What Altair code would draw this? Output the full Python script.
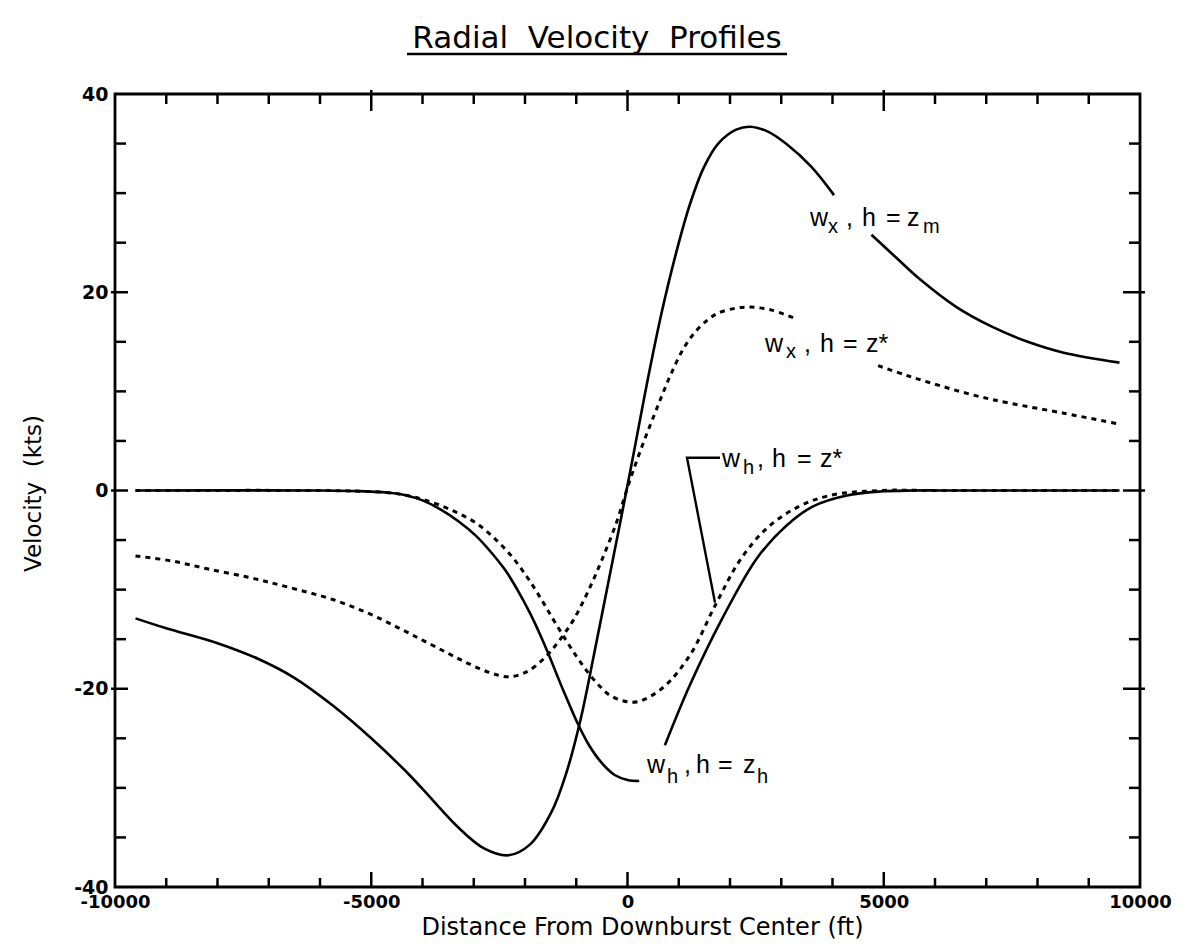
import altair as alt
import pandas as pd

NB = "\u00a0"
TITLE = "Radial" + NB + " Velocity" + NB + " Profiles"
X_TITLE = "Distance From Downburst Center (ft)"
Y_TITLE = "Velocity" + NB + " (kts)"

X_LABELS = [-10000, -5000, 0, 5000, 10000]
Y_LABELS = [-40, -20, 0, 20, 40]
X_MINOR = [-9000, -8000, -7000, -6000, -4000, -3000, -2000, -1000,
           1000, 2000, 3000, 4000, 6000, 7000, 8000, 9000]
X_MAJOR = [-5000, 0, 5000]
Y_MINOR = [-35, -30, -25, -15, -10, -5, 5, 10, 15, 25, 30, 35]
Y_MAJOR = [-20, 0, 20]

# w_x, h = z_m (solid), split around its label
wx_zm_a_x = [-9600, -9000, -8000, -7200, -6500, -5750, -5000, -4350, -4000, -3300,
             -2800, -2320, -1900, -1480, -1200, -920, -640, -360, -80, 130, 380,
             660, 940, 1220, 1490, 1770, 2120, 2400, 2740, 3090, 3580, 4030]
wx_zm_a_y = [-12.9, -13.9, -15.4, -17.0, -18.9, -21.7, -25.0, -28.2, -30.1, -34.0,
             -36.1, -36.8, -35.7, -32.4, -28.6, -23.2, -16.2, -8.9, -1.6, 4.0, 10.8,
             17.8, 23.8, 28.9, 32.6, 35.0, 36.4, 36.7, 36.2, 35.0, 32.7, 29.8]
wx_zm_b_x = [4760, 5240, 5730, 6420, 7120, 7810, 8510, 9600]
wx_zm_b_y = [25.8, 23.5, 21.2, 18.5, 16.5, 15.0, 13.9, 12.9]

# w_x, h = z* (dotted), split around its label
wx_zs_a_x = [-9600, -8900, -8200, -7360, -6660, -5750, -5050, -4490, -4000, -3510,
             -3090, -2670, -2320, -1970, -1620, -1340, -1060, -780, -500, -220, 0,
             250, 520, 690, 870, 1080, 1290, 1560, 1770, 2120, 2400, 2810, 3300]
wx_zs_a_y = [-6.6, -7.1, -7.9, -8.8, -9.7, -11.0, -12.4, -13.8, -15.1, -16.4,
             -17.5, -18.4, -18.8, -18.3, -16.9, -15.2, -13.1, -10.3, -7.0, -3.3, 0.3,
             4.0, 7.6, 9.8, 12.0, 14.2, 15.8, 17.2, 17.9, 18.4, 18.5, 18.2, 17.3]
wx_zs_b_x = [4890, 5450, 6080, 6770, 7470, 8510, 9600]
wx_zs_b_y = [12.6, 11.6, 10.6, 9.6, 8.8, 7.8, 6.7]

# w_h, h = z_h (solid), split around its label
wh_zh_a_x = [-9600, -6000, -5400, -4700, -4350, -4000, -3650, -3300, -2950, -2700,
             -2390, -2150, -1900, -1700, -1550, -1250, -990, -750, -500, -250, 0, 230]
wh_zh_a_y = [0, 0, -0.05, -0.2, -0.45, -1.0, -1.9, -3.1, -4.6, -6.0,
             -8.0, -10.0, -12.4, -14.6, -16.4, -20.2, -23.3, -25.7, -27.5, -28.7, -29.2, -29.3]
wh_zh_b_x = [730, 1220, 1860, 2530, 3110, 3620, 4280, 4930, 5570, 6500, 9600]
wh_zh_b_y = [-25.7, -19.6, -12.8, -6.8, -3.5, -1.6, -0.5, -0.1, 0, 0, 0]

# w_h, h = z* (dotted)
wh_zs_x = [-9600, -6000, -5400, -4700, -4300, -4000, -3650, -3300, -2950, -2600,
           -2250, -1950, -1690, -1450, -1200, -1000, -780, -550, -360, -100, 200,
           690, 1220, 1710, 2200, 2720, 3310, 3950, 4930, 6000, 9600]
wh_zs_y = [0, 0, -0.05, -0.2, -0.5, -0.9, -1.5, -2.3, -3.3, -4.8,
           -6.7, -8.8, -10.9, -13.0, -15.1, -16.7, -18.3, -19.7, -20.6, -21.2, -21.3,
           -19.9, -16.6, -11.6, -7.0, -3.8, -1.7, -0.5, 0, 0, 0]

# leader line for "w_h, h = z*"
leader_x = [1805, 1161, 1707]
leader_y = [3.3, 3.3, -11.3]

# curve labels: text pieces (main text and subscripts)
ann_text = ["w", "x", ",", "h", "=", "z", "m",
            "w", "x", ",", "h", "=", "z*",
            "w", "h", ",", "h", "=", "z*",
            "w", "h", ",", "h", "=", "z", "h"]
ann_x = [3561, 3912, 4263, 4576, 5044, 5454, 5766,
         2683, 3093, 3444, 3756, 4205, 4654,
         1844, 2254, 2527, 2819, 3307, 3756,
         380, 771, 1102, 1336, 1766, 2254, 2527]
ann_y = [26.7, 26.0, 26.7, 26.7, 26.7, 26.7, 26.0,
         14.0, 13.4, 14.0, 14.0, 14.0, 14.0,
         2.4, 1.7, 2.4, 2.4, 2.4, 2.4,
         -28.5, -29.5, -28.5, -28.5, -28.5, -28.5, -29.5]
ann_sub = [0, 1, 0, 0, 0, 0, 1,
           0, 1, 0, 0, 0, 0,
           0, 1, 0, 0, 0, 0,
           0, 1, 0, 0, 0, 0, 1]


def seg(xs, ys, name):
    return pd.DataFrame({"ft": xs, "v": ys, "seg": name})


solid_df = pd.concat([seg(wx_zm_a_x, wx_zm_a_y, "a"), seg(wx_zm_b_x, wx_zm_b_y, "b"),
                      seg(wh_zh_a_x, wh_zh_a_y, "c"), seg(wh_zh_b_x, wh_zh_b_y, "d")])
dotted_df = pd.concat([seg(wx_zs_a_x, wx_zs_a_y, "a"), seg(wx_zs_b_x, wx_zs_b_y, "b"),
                       seg(wh_zs_x, wh_zs_y, "c")])
leader_df = pd.DataFrame({"ft": leader_x, "v": leader_y, "o": [0, 1, 2]})
ann_df = pd.DataFrame({"ft": ann_x, "v": ann_y, "t": ann_text,
                       "s": [20 if s else 25 for s in ann_sub]})
xmin_df = pd.DataFrame({"ft": X_MINOR})
xmaj_df = pd.DataFrame({"ft": X_MAJOR})
ymin_df = pd.DataFrame({"v": Y_MINOR})
ymaj_df = pd.DataFrame({"v": Y_MAJOR})
title_df = pd.DataFrame({"t": [TITLE]})

W, H = 1025, 793

X = alt.X("ft:Q", scale=alt.Scale(domain=[-10000, 10000], nice=False, zero=False),
          axis=alt.Axis(values=X_LABELS, title=X_TITLE, labelExpr="'' + datum.value",
                        ticks=False, tickSize=0, grid=False, domain=False,
                        labelFont="DejaVu Sans", labelFontWeight="bold", labelFontSize=18,
                        labelColor="black", labelPadding=6, labelFlush=False,
                        labelOverlap=False,
                        titleFont="DejaVu Sans", titleFontSize=24, titleFontWeight="normal",
                        titleColor="black", titleX=527, titleY=47,
                        titleBaseline="alphabetic", titleAlign="center"))
Y = alt.Y("v:Q", scale=alt.Scale(domain=[-40, 40], nice=False, zero=False),
          axis=alt.Axis(values=Y_LABELS, title=Y_TITLE, labelExpr="'' + datum.value",
                        ticks=False, tickSize=0, grid=False, domain=False,
                        labelFont="DejaVu Sans", labelFontWeight="bold", labelFontSize=19,
                        labelColor="black", labelPadding=7, labelFlush=False,
                        labelOverlap=False,
                        titleFont="DejaVu Sans", titleFontSize=23, titleFontWeight="normal",
                        titleColor="black", titleX=-75, titleY=399, titleAngle=270,
                        titleBaseline="alphabetic", titleAlign="center"))

LW = 2.6
INTERP = "catmull-rom"
solid = alt.Chart(solid_df).mark_line(color="black", strokeWidth=LW, interpolate=INTERP).encode(
    x=X, y=Y, detail="seg:N")
dotted = alt.Chart(dotted_df).mark_line(color="black", strokeWidth=LW + 0.4, interpolate=INTERP,
                                        strokeDash=[5, 5]).encode(x=X, y=Y, detail="seg:N")
leader = alt.Chart(leader_df).mark_line(color="black", strokeWidth=2.4).encode(
    x=X, y=Y, order="o:Q")
ann = alt.Chart(ann_df).mark_text(align="left", baseline="alphabetic", font="Liberation Sans",
                                   color="black").encode(
    x=X, y=Y, text="t:N", size=alt.Size("s:Q", scale=None))

TW = 2.5
ticks = [
    alt.Chart(xmin_df).mark_rule(color="black", strokeWidth=TW).encode(x=X, y=alt.value(H), y2=alt.value(H - 9)),
    alt.Chart(xmaj_df).mark_rule(color="black", strokeWidth=TW).encode(x=X, y=alt.value(H), y2=alt.value(H - 15)),
    alt.Chart(xmin_df).mark_rule(color="black", strokeWidth=TW).encode(x=X, y=alt.value(0), y2=alt.value(10)),
    alt.Chart(xmaj_df).mark_rule(color="black", strokeWidth=TW).encode(x=X, y=alt.value(-4), y2=alt.value(17)),
    alt.Chart(ymin_df).mark_rule(color="black", strokeWidth=TW).encode(y=Y, x=alt.value(0), x2=alt.value(11)),
    alt.Chart(ymaj_df).mark_rule(color="black", strokeWidth=TW).encode(y=Y, x=alt.value(-4), x2=alt.value(13)),
    alt.Chart(ymin_df).mark_rule(color="black", strokeWidth=TW).encode(y=Y, x=alt.value(W), x2=alt.value(W - 11)),
    alt.Chart(ymaj_df).mark_rule(color="black", strokeWidth=TW).encode(y=Y, x=alt.value(W + 5), x2=alt.value(W - 17)),
]

title = alt.Chart(title_df).mark_text(align="center", baseline="alphabetic", font="DejaVu Sans",
                                      fontSize=31, color="black").encode(
    x=alt.value(482), y=alt.value(-46), text="t:N")
underline = alt.Chart(title_df).mark_rule(color="black", strokeWidth=2.5).encode(
    x=alt.value(292), x2=alt.value(672), y=alt.value(-40))

chart = alt.layer(solid, dotted, leader, ann, *ticks, title, underline).properties(
    width=W, height=H,
    padding={"left": 107, "top": 86, "right": 40, "bottom": 52},
    autosize=alt.AutoSizeParams(type="none"),
    background="white",
).configure_view(stroke="black", strokeWidth=2.8)

chart.save("out.html", embed_options={"renderer": "svg", "actions": False})
